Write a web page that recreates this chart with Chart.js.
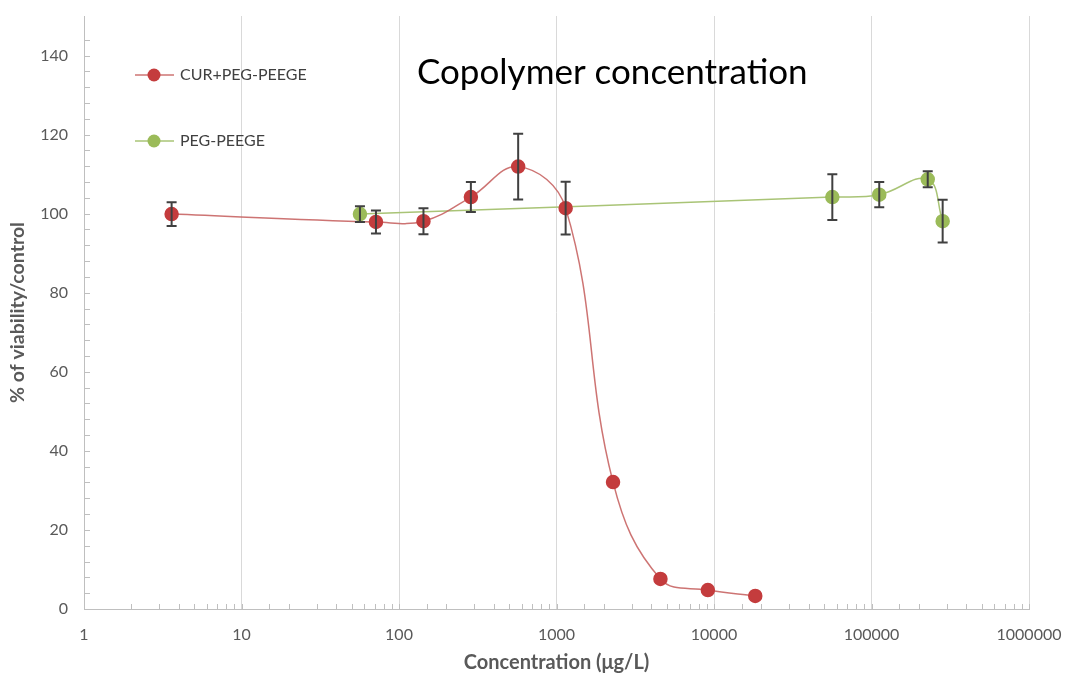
<!DOCTYPE html>
<html>
<head>
<meta charset="utf-8">
<script src="https://cdn.jsdelivr.net/npm/chart.js@4"></script>
<style>
  html, body { margin: 0; padding: 0; background: #fff; }
  #wrap { width: 1065px; height: 675px; }
</style>
</head>
<body>
<div id="wrap"><canvas id="chart" width="1065" height="675"></canvas></div>
<script>
// CUR+PEG-PEEGE
const curConc = [3.6, 71.4, 143, 286, 571, 1143, 2285, 4570, 9140, 18280];
const curViab = [99.9, 97.9, 98.1, 104.2, 111.9, 101.4, 32.1, 7.6, 4.8, 3.3];
const curErr  = [3.0, 2.9, 3.3, 3.8, 8.3, 6.7, 0, 0, 0, 0];

// PEG-PEEGE
const pegConc = [56.5, 56400, 112000, 227500, 283000];
const pegViab = [99.9, 104.2, 104.8, 108.7, 98.1];
const pegErr  = [2.0, 5.8, 3.2, 2.0, 5.4];

const seriesNames = ['CUR+PEG-PEEGE', 'PEG-PEEGE'];
const chartTitle = 'Copolymer concentration';
const xTitle = 'Concentration (μg/L)';
const yTitle = '% of viability/control';

const FONT = 'Lato, "Open Sans", sans-serif';
const labelGray = '#595959';

function isDecade(v) {
  const l = Math.log10(v);
  return Math.abs(l - Math.round(l)) < 1e-6;
}

// error bars drawn on top of the markers
const errorBars = {
  id: 'errorBars',
  afterDatasetsDraw(chart) {
    const ctx = chart.ctx;
    const xs = chart.scales.x, ys = chart.scales.y;
    ctx.save();
    ctx.strokeStyle = '#404040';
    ctx.lineWidth = 2;
    chart.data.datasets.forEach(ds => {
      ds.errors.forEach((e, i) => {
        if (!e) return;
        const p = ds.data[i];
        const px = xs.getPixelForValue(p.x);
        const top = ys.getPixelForValue(p.y + e);
        const bot = ys.getPixelForValue(p.y - e);
        ctx.beginPath();
        ctx.moveTo(px, top); ctx.lineTo(px, bot);
        ctx.moveTo(px - 5, top); ctx.lineTo(px + 5, top);
        ctx.moveTo(px - 5, bot); ctx.lineTo(px + 5, bot);
        ctx.stroke();
      });
    });
    ctx.restore();
  }
};

// small inside tick marks like the spreadsheet axes
const minorTicks = {
  id: 'minorTicks',
  afterDraw(chart) {
    const ctx = chart.ctx;
    const xs = chart.scales.x, ys = chart.scales.y;
    const area = chart.chartArea;
    ctx.save();
    ctx.strokeStyle = '#bfbfbf';
    ctx.lineWidth = 1;
    ctx.beginPath();
    xs.ticks.forEach(t => {
      const px = Math.round(xs.getPixelForValue(t.value)) + 0.5;
      ctx.moveTo(px, area.bottom);
      ctx.lineTo(px, area.bottom - 5);
    });
    ys.ticks.forEach(t => {
      if (t.value > 148) return;
      const py = Math.round(ys.getPixelForValue(t.value)) + 0.5;
      ctx.moveTo(area.left, py);
      ctx.lineTo(area.left + 6, py);
    });
    ctx.stroke();
    ctx.restore();
  }
};

// title + legend placed inside the plot like the original
const overlay = {
  id: 'overlay',
  afterDraw(chart) {
    const ctx = chart.ctx;
    ctx.save();
    ctx.fillStyle = '#000';
    ctx.font = '35px ' + FONT;
    ctx.textBaseline = 'middle';
    ctx.textAlign = 'left';
    ctx.fillText(chartTitle, 417, 73);

    const rows = [75, 141];
    chart.data.datasets.forEach((ds, i) => {
      const y = rows[i];
      ctx.strokeStyle = ds.borderColor;
      ctx.lineWidth = 1.5;
      ctx.beginPath();
      ctx.moveTo(135, y); ctx.lineTo(174, y);
      ctx.stroke();
      ctx.fillStyle = ds.pointBackgroundColor;
      ctx.beginPath();
      ctx.arc(154, y, 6.5, 0, Math.PI * 2);
      ctx.fill();
      ctx.fillStyle = '#404040';
      ctx.font = '16px ' + FONT;
      ctx.fillText(ds.label, 180, y);
    });
    ctx.restore();
  }
};

const toPoints = (xs, ys) => xs.map((x, i) => ({ x: x, y: ys[i] }));

new Chart(document.getElementById('chart'), {
  type: 'line',
  data: {
    datasets: [
      {
        label: seriesNames[0],
        data: toPoints(curConc, curViab),
        errors: curErr,
        borderColor: 'rgba(196,92,90,0.85)',
        borderWidth: 1.5,
        pointBackgroundColor: '#c43c3d',
        pointBorderColor: '#c43c3d',
        pointRadius: 6.5,
        tension: 0.4
      },
      {
        label: seriesNames[1],
        data: toPoints(pegConc, pegViab),
        errors: pegErr,
        borderColor: '#a9c476',
        borderWidth: 1.5,
        pointBackgroundColor: '#9bbb59',
        pointBorderColor: '#9bbb59',
        pointRadius: 6.5,
        tension: 0.4
      }
    ]
  },
  options: {
    responsive: false,
    devicePixelRatio: 1,
    animation: false,
    layout: { padding: { top: 16, right: 36, left: 0, bottom: 0 } },
    plugins: {
      legend: { display: false },
      tooltip: { enabled: false }
    },
    scales: {
      x: {
        type: 'logarithmic',
        min: 1,
        max: 1000000,
        afterFit: s => { s.height = 66; s.paddingLeft = 0; s.paddingRight = 0; },
        border: { color: '#bfbfbf', width: 1 },
        grid: {
          drawTicks: false,
          color: c => (c.tick && isDecade(c.tick.value)) ? '#d9d9d9' : 'rgba(0,0,0,0)'
        },
        ticks: {
          autoSkip: false,
          maxRotation: 0,
          padding: 16,
          color: labelGray,
          font: { family: FONT, size: 16 },
          callback: v => isDecade(v) ? String(Math.round(v)) : ''
        },
        title: {
          display: true,
          text: xTitle,
          color: labelGray,
          font: { family: FONT, size: 20, weight: 'bold' },
          padding: { top: 0, bottom: 0 }
        }
      },
      y: {
        min: 0,
        max: 150,
        afterFit: s => { s.width = 84; s.paddingTop = 0; s.paddingBottom = 0; },
        border: { color: '#bfbfbf', width: 1 },
        grid: { drawOnChartArea: false, drawTicks: false },
        ticks: {
          stepSize: 4,
          autoSkip: false,
          padding: 16,
          color: labelGray,
          font: { family: FONT, size: 16 },
          callback: v => (v % 20 === 0 && v <= 140) ? String(v) : ''
        },
        title: {
          display: true,
          text: yTitle,
          color: labelGray,
          font: { family: FONT, size: 19.5, weight: 'bold' },
          padding: { top: 6, bottom: 0 }
        }
      }
    }
  },
  plugins: [errorBars, minorTicks, overlay]
});
</script>
</body>
</html>
